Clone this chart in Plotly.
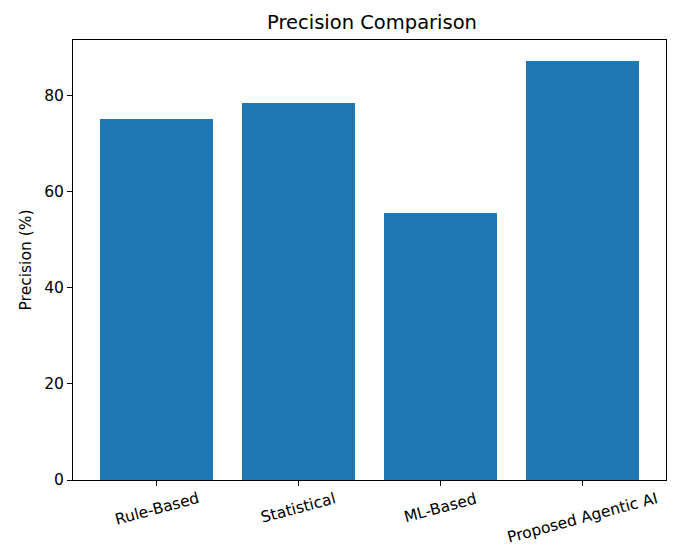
import plotly.graph_objects as go

methods = ["Rule-Based", "Statistical", "ML-Based", "Proposed Agentic AI"]
precision = [75.0, 78.4, 55.6, 87.1]
y_ticks = [0, 20, 40, 60, 80]

font = "DejaVu Sans"
tick_size = 15.5

fig = go.Figure(
    go.Bar(
        x=list(range(len(methods))),
        y=precision,
        width=0.8,
        marker=dict(color="#1f77b4", line=dict(width=0)),
    )
)

# rotated category labels, centred under each tick (matplotlib style)
for i, name in enumerate(methods):
    fig.add_annotation(
        x=i,
        xref="x",
        y=0,
        yref="paper",
        text=name,
        textangle=-15,
        showarrow=False,
        xanchor="center",
        yanchor="top",
        yshift=-7,
        font=dict(family=font, size=tick_size, color="black"),
    )

fig.update_layout(
    width=675,
    height=549,
    margin=dict(l=73, r=9, t=40, b=69, autoexpand=False),
    paper_bgcolor="white",
    plot_bgcolor="white",
    showlegend=False,
    font=dict(family=font, size=tick_size, color="black"),
    title=dict(
        text="Precision Comparison",
        x=372 / 675,
        xanchor="center",
        y=1 - 22 / 549,
        yanchor="middle",
        font=dict(family=font, size=19.5, color="black"),
    ),
    bargap=0,
)
fig.update_xaxes(
    range=[-0.59, 3.59],
    tickmode="array",
    tickvals=list(range(len(methods))),
    showticklabels=False,
    ticks="outside",
    ticklen=5,
    tickwidth=1,
    tickcolor="black",
    showline=True,
    linecolor="black",
    linewidth=1,
    mirror=True,
    showgrid=False,
    zeroline=False,
    automargin=False,
)
fig.update_yaxes(
    range=[0, 91.5],
    tickmode="array",
    tickvals=y_ticks,
    ticks="outside",
    ticklen=5,
    tickwidth=1,
    tickcolor="black",
    showline=True,
    linecolor="black",
    linewidth=1,
    mirror=True,
    showgrid=False,
    zeroline=False,
    title=dict(text="Precision (%)", font=dict(family=font, size=tick_size), standoff=8),
    tickfont=dict(family=font, size=tick_size),
)

fig.write_html(
    "out.html",
    config={"displayModeBar": False},
    post_script="document.body.style.margin='0';",
)
